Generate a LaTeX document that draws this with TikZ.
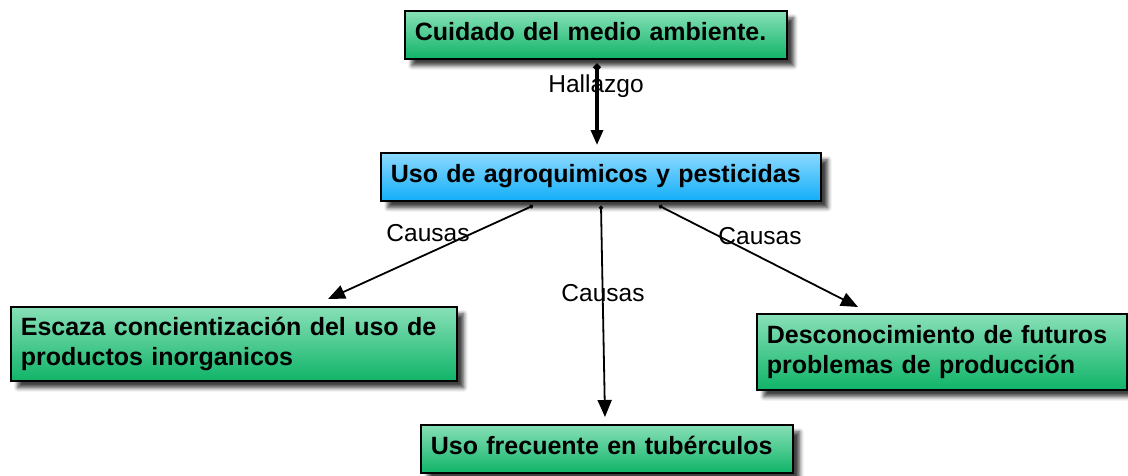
\documentclass[tikz,border=0pt]{standalone}
\usepackage{fontspec}
\setmainfont{Liberation Sans}
\usetikzlibrary{arrows.meta,calc,shadows.blur}
\definecolor{gtop}{HTML}{88E0B8}
\definecolor{gbot}{HTML}{10B468}
\definecolor{btop}{HTML}{8CD9FF}
\definecolor{bbot}{HTML}{12AEF8}
\begin{document}
\begin{tikzpicture}[x=1pt,y=-1pt,
  basebox/.style={draw=black, line width=1.7pt, anchor=north west, align=left,
    inner xsep=10pt, inner ysep=0pt,
    font=\bfseries\fontsize{25}{30}\selectfont,
    blur shadow={shadow xshift=7pt, shadow yshift=-7pt, shadow blur radius=4pt, shadow opacity=75}},
  gbox/.style={basebox, top color=gtop, bottom color=gbot},
  bbox/.style={basebox, top color=btop, bottom color=bbot},
  oneline/.style={text height=18pt, text depth=6pt},
  lbl/.style={font=\fontsize{24.5}{28}\selectfont, inner sep=0pt},
  hall/.style={line width=3.2pt, {Circle[length=7pt]}-{Triangle[length=15pt,width=12pt]}},
  cause/.style={line width=1.8pt, {Circle[length=4pt]}-{Triangle[length=17pt,width=14pt]}}]
\useasboundingbox (0,0) rectangle (1128,475);

\node[gbox, oneline, minimum width=382pt, minimum height=48pt, text width=362pt] (top) at (404,10) {Cuidado del medio ambiente.};
\node[bbox, oneline, minimum width=440pt, minimum height=48pt, text width=420pt] (mid) at (380,152) {Uso de agroquimicos y pesticidas};
\node[gbox, minimum width=446pt, minimum height=74pt, text width=426pt] (left) at (10,306) {Escaza concientización del uso de\\productos inorganicos};
\node[gbox, minimum width=370pt, minimum height=76pt, text width=350pt] (right) at (756,313) {Desconocimiento de futuros\\problemas de producción};
\node[gbox, oneline, minimum width=372pt, minimum height=48pt, text width=352pt] (bot) at (420,424) {Uso frecuente en tubérculos};

\coordinate (h0) at ($(top.south west)+(193,4)$);
\coordinate (h1) at ($(mid.north west)+(217,-7)$);
\coordinate (s1) at ($(mid.south west)+(153,4)$);
\coordinate (s2) at ($(mid.south west)+(221,4)$);
\coordinate (s3) at ($(mid.south west)+(279,4)$);
\coordinate (e1) at ($(left.north west)+(318,-7)$);
\coordinate (e2) at ($(bot.north west)+(185,-7)$);
\coordinate (e3) at ($(right.north west)+(102,-6)$);

\node[lbl] (l0) at (596,86) {Hallazgo};
\node[lbl] (l1) at (428,233) {Causas};
\node[lbl] (l2) at (603,293) {Causas};
\node[lbl] (l3) at (760,236) {Causas};

\draw[hall] (h0) -- (h1);
\draw[cause] (s1) -- (e1);
\draw[cause] (s2) -- (e2);
\draw[cause] (s3) -- (e3);
\end{tikzpicture}
\end{document}
